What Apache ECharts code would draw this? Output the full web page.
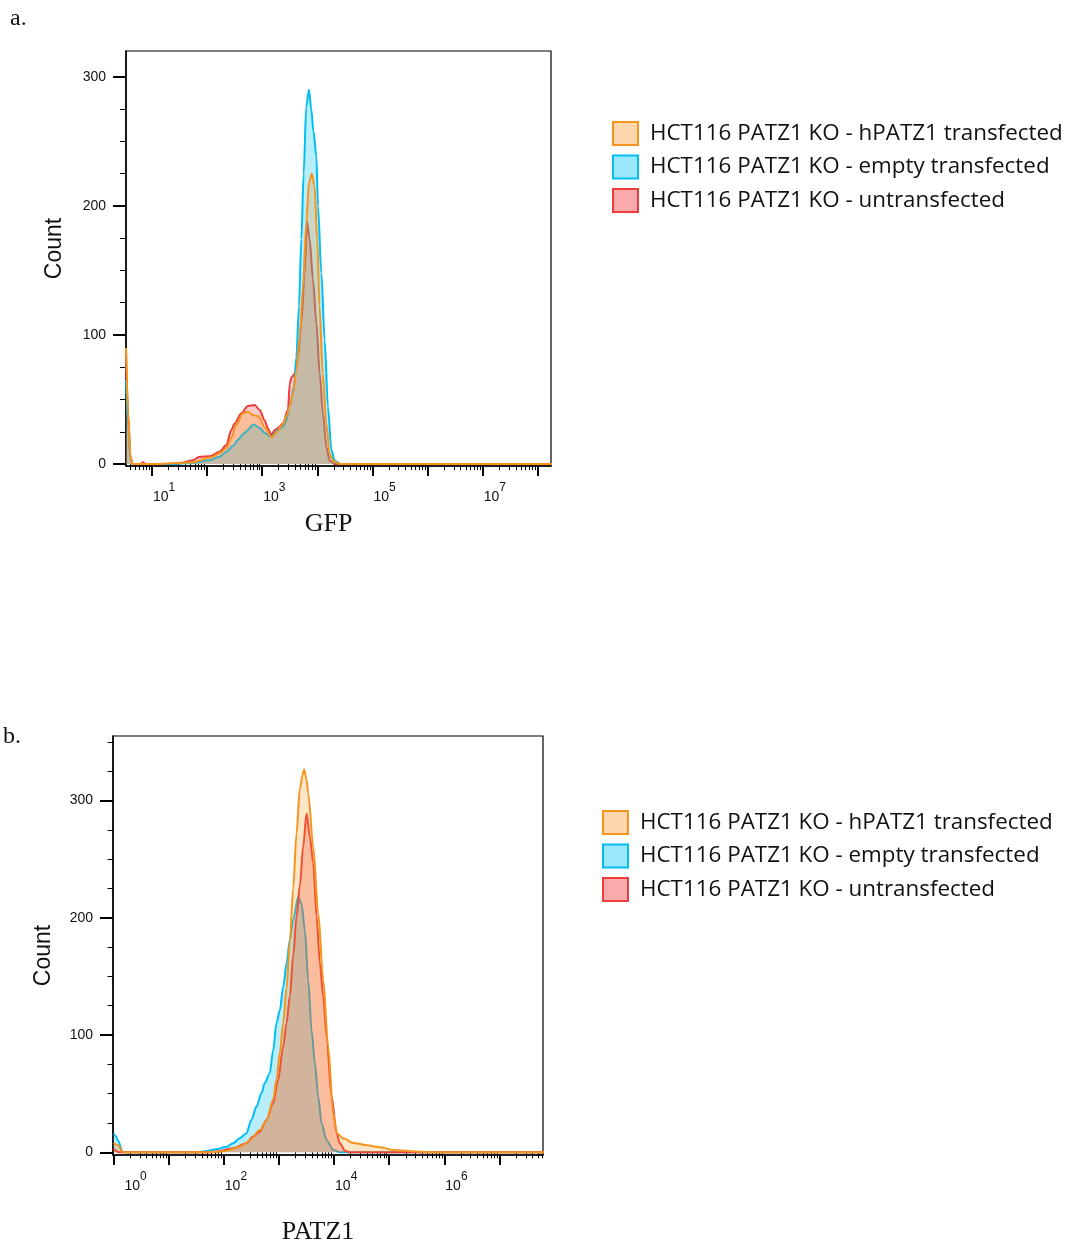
<!DOCTYPE html>
<html>
<head>
<meta charset="utf-8">
<title>GFP and PATZ1 flow cytometry histograms</title>
<script src="https://cdn.jsdelivr.net/npm/echarts@6/dist/echarts.min.js"></script>
<style>
  html, body { margin: 0; padding: 0; background: #ffffff; }
  #chart { width: 1068px; height: 1242px; }
</style>
</head>
<body>
<div id="chart"></div>
<script>
// Sample names (one histogram per sample in each panel)
const sampleNames = [
  'HCT116 PATZ1 KO - hPATZ1 transfected',
  'HCT116 PATZ1 KO - empty transfected',
  'HCT116 PATZ1 KO - untransfected'
];

// Panel a: GFP histograms, points are [log10 fluorescence, cell count]
const gfpHpatz1 = [
  [0.53, 90], [0.57, 40], [0.61, 6], [0.65, 0], [1.10, 0], [1.30, 0.5], [1.55, 1], [1.75, 1.5],
  [2.05, 5], [2.23, 8.3], [2.35, 12.4], [2.44, 20], [2.53, 30.5], [2.65, 39.3], [2.74, 40.6],
  [2.83, 38], [2.93, 37], [3.05, 28.4], [3.17, 20.7], [3.26, 24.6], [3.38, 31], [3.45, 38],
  [3.50, 45], [3.56, 55], [3.62, 72], [3.68, 98], [3.74, 137], [3.80, 187], [3.85, 218],
  [3.90, 225], [3.95, 215], [4.00, 174], [4.04, 122], [4.10, 70], [4.165, 31], [4.225, 8],
  [4.285, 2.6], [4.41, 0], [8.3, 0]
];
const gfpEmpty = [
  [0.53, 65], [0.57, 30], [0.61, 5], [0.65, 0], [1.30, 0], [1.74, 0.8], [2.05, 3], [2.23, 5.7],
  [2.35, 9.6], [2.47, 14], [2.56, 18.6], [2.65, 23], [2.74, 26.4], [2.82, 30], [2.86, 30.5],
  [2.955, 27.9], [3.045, 24], [3.167, 20.7], [3.227, 24], [3.30, 27], [3.377, 29], [3.44, 34],
  [3.50, 45], [3.577, 60], [3.62, 83], [3.668, 122], [3.71, 174], [3.753, 225], [3.80, 277],
  [3.85, 290], [3.89, 275], [3.93, 258], [3.984, 238], [4.013, 200], [4.074, 148], [4.134, 96],
  [4.194, 44], [4.256, 11], [4.316, 2.6], [4.42, 0], [8.3, 0]
];
const gfpUntransfected = [
  [0.53, 88], [0.57, 38], [0.61, 5], [0.65, 0], [0.80, 0], [0.84, 1.5], [0.88, 0], [1.20, 0],
  [1.50, 0.5], [1.744, 3], [1.866, 5.7], [2.047, 6], [2.229, 9.6], [2.35, 14.7], [2.441, 26.4],
  [2.501, 31.5], [2.622, 39.3], [2.742, 45], [2.864, 45.7], [2.955, 41.9], [3.045, 34],
  [3.105, 27.6], [3.167, 22.5], [3.227, 26.4], [3.287, 28], [3.377, 31.5], [3.468, 42],
  [3.50, 62], [3.53, 67], [3.59, 70], [3.65, 83], [3.71, 109], [3.771, 148], [3.813, 188],
  [3.862, 174], [3.922, 143], [3.984, 109], [4.044, 70], [4.103, 39], [4.165, 13], [4.225, 2.6],
  [4.32, 0], [8.3, 0]
];

// Panel b: PATZ1 histograms, points are [log10 fluorescence, cell count]
const patz1Hpatz1 = [
  [0.0, 8], [0.08, 6], [0.17, 0], [1.70, 0], [1.865, 0.5], [2.047, 1.4], [2.168, 3], [2.289, 4.8],
  [2.41, 8], [2.471, 10.5], [2.653, 19], [2.774, 27.6], [2.895, 45], [2.955, 62], [3.016, 85],
  [3.077, 110], [3.137, 140], [3.198, 180], [3.258, 225], [3.319, 272], [3.379, 310], [3.43, 322],
  [3.458, 326.5], [3.50, 318], [3.531, 306], [3.622, 261], [3.713, 204], [3.804, 147], [3.894, 90],
  [3.985, 33], [4.058, 16], [4.167, 12], [4.348, 8], [4.591, 6], [4.833, 4.3], [5.075, 2],
  [5.499, 0.6], [5.802, 0], [7.9, 0]
];
const patz1Empty = [
  [0.0, 16], [0.04, 14], [0.08, 10], [0.17, 0], [1.50, 0], [1.623, 0.6], [1.865, 2.6], [2.047, 4.8],
  [2.168, 7.7], [2.289, 12], [2.41, 16.2], [2.501, 27.6], [2.592, 39], [2.683, 50.3], [2.743, 59],
  [2.834, 67.5], [2.895, 87], [2.955, 110], [3.016, 121], [3.077, 141], [3.137, 161], [3.198, 181],
  [3.258, 198], [3.349, 218], [3.41, 212], [3.47, 189.5], [3.531, 147], [3.592, 104], [3.652, 76],
  [3.713, 47.5], [3.773, 24.7], [3.864, 10.5], [3.985, 2], [4.106, 0], [7.9, 0]
];
const patz1Untransfected = [
  [0.0, 3], [0.1, 0], [1.70, 0], [1.865, 0.6], [2.168, 3.4], [2.41, 7.7], [2.532, 13.4],
  [2.653, 17.6], [2.774, 27.6], [2.895, 41.8], [2.986, 61.7], [3.077, 90], [3.137, 110],
  [3.198, 133], [3.258, 167], [3.319, 201], [3.379, 227], [3.44, 261], [3.501, 289], [3.561, 269],
  [3.622, 247], [3.683, 201], [3.743, 161], [3.804, 133], [3.864, 99], [3.955, 47.5], [4.046, 16.2],
  [4.106, 7.7], [4.197, 1.4], [4.288, 0], [7.9, 0]
];

// Axis ticks: decades (log10) and count ticks
const gfpDecades = [1, 2, 3, 4, 5, 6, 7, 8];
const gfpLabelDecades = [1, 3, 5, 7];
const patz1Decades = [0, 1, 2, 3, 4, 5, 6, 7];
const patz1LabelDecades = [0, 2, 4, 6];
const countLabels = [0, 100, 200, 300];
const gfpCountMinor = [25, 50, 75, 125, 150, 175, 225, 250, 275];
const patz1CountMinor = [25, 50, 75, 125, 150, 175, 225, 250, 275, 325, 350];

// Axis ranges (log10 units for fluorescence)
const gfpRange = [0.53, 8.24];
const patz1Range = [-0.01, 7.79];
const gfpCountRange = [-1.5, 320];
const patz1CountRange = [-2.3, 355];

const strokeColors = ['#F7941D', '#00BDF2', '#EE3B3B'];
const fillColors = ['rgba(247,148,29,0.35)', 'rgba(0,191,243,0.40)', 'rgba(239,65,54,0.40)'];
const swatchColors = ['#FDD6AE', '#9CE6FA', '#F9AAAA'];

// minor ticks of a log axis: 2..9 inside each decade
function logMinorTicks(range) {
  const out = [];
  for (let d = Math.floor(range[0]) - 1; d <= Math.ceil(range[1]); d++) {
    for (let k = 2; k <= 9; k++) {
      const v = d + Math.log10(k);
      if (v > range[0] && v < range[1]) out.push(v);
    }
  }
  return out;
}

const tickFont = 'Liberation Sans, Arial, sans-serif';

function decadeAxes(gridIndex, range, majors, labelled, name, nameGap) {
  return [
    {
      gridIndex, type: 'value', position: 'bottom', min: range[0], max: range[1],
      axisLine: { show: true, onZero: false, lineStyle: { color: '#000', width: 1.5 } },
      axisTick: { show: true, customValues: majors, length: 10, inside: false,
                  lineStyle: { color: '#000', width: 2 } },
      axisLabel: {
        show: true, customValues: labelled, align: 'left', margin: 16,
        formatter: v => (v === 0 ? '{b0|10}{s|' + v + '}' : '{b|10}{s|' + v + '}'),
        rich: {
          b: { fontFamily: tickFont, fontSize: 14, color: '#111', verticalAlign: 'bottom', padding: [8, 0, 0, 1] },
          b0: { fontFamily: tickFont, fontSize: 14, color: '#111', verticalAlign: 'bottom', padding: [8, 0, 0, 11] },
          s: { fontFamily: tickFont, fontSize: 12, color: '#111', verticalAlign: 'top' }
        }
      },
      splitLine: { show: false },
      name, nameLocation: 'middle', nameGap,
      nameTextStyle: { fontFamily: 'Liberation Serif, Times New Roman, serif', fontSize: 26,
                       color: '#111', padding: [0, 20, 0, 0] }
    },
    {
      gridIndex, type: 'value', position: 'bottom', min: range[0], max: range[1],
      axisLine: { show: false },
      axisTick: { show: true, customValues: logMinorTicks(range), length: 6,
                  lineStyle: { color: '#000', width: 1 } },
      axisLabel: { show: false },
      splitLine: { show: false }
    }
  ];
}

function countAxes(gridIndex, range, minors, namePad, nameGap) {
  return [
    {
      gridIndex, type: 'value', position: 'left', min: range[0], max: range[1],
      axisLine: { show: true, onZero: false, lineStyle: { color: '#000', width: 1.5 } },
      axisTick: { show: true, customValues: countLabels, length: 13,
                  lineStyle: { color: '#000', width: 2 } },
      axisLabel: { show: true, customValues: countLabels, margin: 20,
                   fontFamily: tickFont, fontSize: 14, color: '#111' },
      splitLine: { show: false },
      name: 'Count', nameLocation: 'middle', nameGap,
      nameTextStyle: { fontFamily: tickFont, fontSize: 23, color: '#111', padding: namePad }
    },
    {
      gridIndex, type: 'value', position: 'left', min: range[0], max: range[1],
      axisLine: { show: false },
      axisTick: { show: true, customValues: minors, length: 6,
                  lineStyle: { color: '#000', width: 1 } },
      axisLabel: { show: false },
      splitLine: { show: false }
    }
  ];
}

function histSeries(idx, data, xAxisIndex, yAxisIndex, z) {
  return {
    type: 'line', name: sampleNames[idx], data, xAxisIndex, yAxisIndex, z,
    smooth: 0.3, smoothMonotone: 'x', showSymbol: false, symbol: 'none',
    lineStyle: { color: strokeColors[idx], width: 2 },
    itemStyle: { color: strokeColors[idx] },
    areaStyle: { color: fillColors[idx] },
    animation: false
  };
}

function legendBlock(left, top) {
  return {
    orient: 'vertical', left, top, itemWidth: 25, itemHeight: 23, itemGap: 8.5,
    selectedMode: false, icon: 'rect',
    textStyle: { fontFamily: 'Open Sans, sans-serif', fontSize: 22.4, lineHeight: 23,
                 color: '#111', padding: [0, 0, 0, 7] },
    data: sampleNames.map((n, i) => ({
      name: n, icon: 'rect',
      itemStyle: { color: swatchColors[i], borderColor: strokeColors[i], borderWidth: 2 }
    }))
  };
}

const chart = echarts.init(document.getElementById('chart'), null, { renderer: 'canvas' });

chart.setOption({
  backgroundColor: '#ffffff',
  animation: false,
  grid: [
    { left: 126, top: 51, width: 425, height: 415, show: true, borderColor: '#000', borderWidth: 1.2,
      containLabel: false, outerBoundsMode: 'none' },
    { left: 113, top: 736, width: 430, height: 419, show: true, borderColor: '#000', borderWidth: 1.2,
      containLabel: false, outerBoundsMode: 'none' }
  ],
  xAxis: [
    ...decadeAxes(0, gfpRange, gfpDecades, gfpLabelDecades, 'GFP', 45),
    ...decadeAxes(1, patz1Range, patz1Decades, patz1LabelDecades, 'PATZ1', 64)
  ],
  yAxis: [
    ...countAxes(0, gfpCountRange, gfpCountMinor, [0, 0, 0, 20], 60),
    ...countAxes(1, patz1CountRange, patz1CountMinor, [0, 20, 0, 0], 58)
  ],
  legend: [legendBlock(607, 116), legendBlock(597, 805)],
  graphic: [
    { type: 'text', left: 10, top: 7,
      style: { text: 'a.', font: '24px "Liberation Serif", "Times New Roman", serif', fill: '#111' } },
    { type: 'text', left: 3, top: 725,
      style: { text: 'b.', font: '24px "Liberation Serif", "Times New Roman", serif', fill: '#111' } }
  ],
  series: [
    // panel a: untransfected underneath, hPATZ1 on top
    histSeries(2, gfpUntransfected, 0, 0, 2),
    histSeries(1, gfpEmpty, 0, 0, 3),
    histSeries(0, gfpHpatz1, 0, 0, 4),
    // panel b: empty underneath, hPATZ1 on top
    histSeries(1, patz1Empty, 2, 2, 2),
    histSeries(2, patz1Untransfected, 2, 2, 3),
    histSeries(0, patz1Hpatz1, 2, 2, 4)
  ]
});
</script>
</body>
</html>
